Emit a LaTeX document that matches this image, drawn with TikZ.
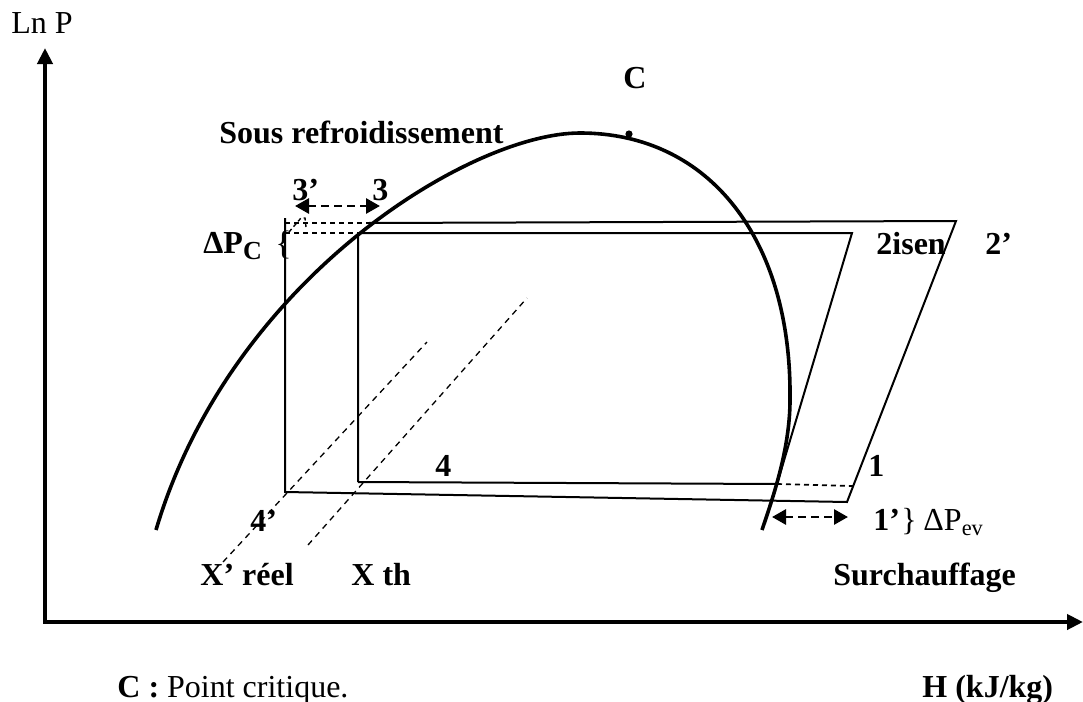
\documentclass[tikz,border=0pt]{standalone}
\usepackage{fontspec}
\setmainfont{Liberation Serif}
\usetikzlibrary{arrows.meta}
\begin{document}
\begin{tikzpicture}[x=0.5pt,y=-0.5pt,
  lbl/.style={anchor=base west,inner sep=0pt,font=\fontsize{16pt}{19pt}\selectfont\bfseries},
  lblr/.style={anchor=base west,inner sep=0pt,font=\fontsize{16pt}{19pt}\selectfont},
  axisline/.style={line width=2pt,{Triangle[length=8pt,width=7.5pt]}-{Triangle[length=8pt,width=7.5pt]}},
  thinline/.style={line width=1pt},
  dsh/.style={line width=0.85pt,dash pattern=on 2.5pt off 2pt},
  diag/.style={line width=0.65pt,dash pattern=on 3pt off 2.5pt},
  dome/.style={line width=1.8pt},
  dbl/.style={line width=1.4pt,dash pattern=on 4pt off 2.5pt,{Triangle[length=7pt,width=7.5pt]}-{Triangle[length=7pt,width=7.5pt]}}
]
\useasboundingbox (0,0) rectangle (1083,702);

% axes
\coordinate (Ytip) at (45,48);
\coordinate (Xtip) at (1083,622);
\draw[axisline] (Ytip) |- (Xtip);

% saturation dome
\coordinate (Ds) at (156,530);
\coordinate (Dtop) at (580,133);
\coordinate (Dr) at (790,400);
\coordinate (De) at (762,530);
\draw[dome] (Ds) .. controls (230,280) and (470,133) .. (Dtop)
  .. controls (710,133) and (792,240) .. (Dr)
  .. controls (790,450) and (772,500) .. (De);
\coordinate (Cpt) at (629,134);
\fill (Cpt) circle[radius=1.8pt];

% cycle points
\coordinate (A) at (285,218);
\coordinate (P4r) at (285,492);
\coordinate (D1) at (285,223);
\coordinate (D2) at (285,233);
\coordinate (P3s) at (368,223);
\coordinate (P2r) at (956,221);
\coordinate (P3) at (358,233);
\coordinate (P2) at (852,233);
\coordinate (P4) at (358,482);
\coordinate (Vs) at (777,484);
\coordinate (P1) at (853,486);
\coordinate (P1r) at (847,502);

% real cycle
\draw[thinline] (A) -- (P4r) -- (P1r) -- (P2r) -- (P3s);
\draw[dsh] (D1) -- (P3s);
\draw[dsh] (D2) -- (P3);
% theoretical cycle
\draw[thinline] (P4) -- (P3) -- (P2) -- (Vs);
\draw[thinline] (P4) -- (Vs);
\draw[dsh] (Vs) -- (P1);

% small tick
\coordinate (t1) at (289,232);
\coordinate (t2) at (301,218);
\coordinate (t3) at (305,218);
\coordinate (t4) at (306,227);
\draw[line width=0.7pt,dash pattern=on 2pt off 1.5pt] (t1) -- (t2) -- (t3) -- (t4);

% quality lines
\coordinate (XrA) at (223,562);
\coordinate (XrB) at (427,342);
\coordinate (XtA) at (308,545);
\coordinate (XtB) at (527,298);
\draw[diag] (XrA) -- (XrB);
\draw[diag] (XtA) -- (XtB);

% arrows
\coordinate (a3l) at (295,206);
\coordinate (a3r) at (380,206);
\draw[dbl] (a3l) -- (a3r);
\coordinate (a1l) at (772,517);
\coordinate (a1r) at (848,517);
\draw[dbl] (a1l) -- (a1r);

% labels
\node[lblr] (lnp) at (11,33) {Ln P};
\node[lbl,anchor=base] (lC) at (635,88) {C};
\node[lbl] (lsous) at (219,143) {Sous refroidissement};
\node[lbl] (l3p) at (292,200) {3’};
\node[lbl] (l3) at (372,200) {3};
\node[lbl] (ldpc) at (203,253) {ΔP\raisebox{-0.2em}{\fontsize{13pt}{13pt}\selectfont C}};
\node[lblr,font=\fontsize{17pt}{19pt}\selectfont] (lbr1) at (275,254) {\{};
\node[lbl] (l2i) at (876,254) {2isen};
\node[lbl] (l2p) at (985,254) {2’};
\node[lbl] (l4) at (435,476) {4};
\node[lbl] (l1) at (868,476) {1};
\node[lbl] (l4p) at (250,531) {4’};
\node[lbl] (l1p) at (873,530) {1’};
\node[lblr] (lbr2) at (901,530) {\}};
\node[lblr] (ldpev) at (923,530) {ΔP\textsubscript{ev}};
\node[lbl] (lxr) at (200,585) {X’ réel};
\node[lbl] (lxt) at (351,585) {X th};
\node[lbl] (lsur) at (833,585) {Surchauffage};
\node[lblr] (lcrit) at (117,697) {\textbf{C :} Point critique.};
\node[lbl] (lH) at (922,697) {H (kJ/kg)};
\end{tikzpicture}
\end{document}
